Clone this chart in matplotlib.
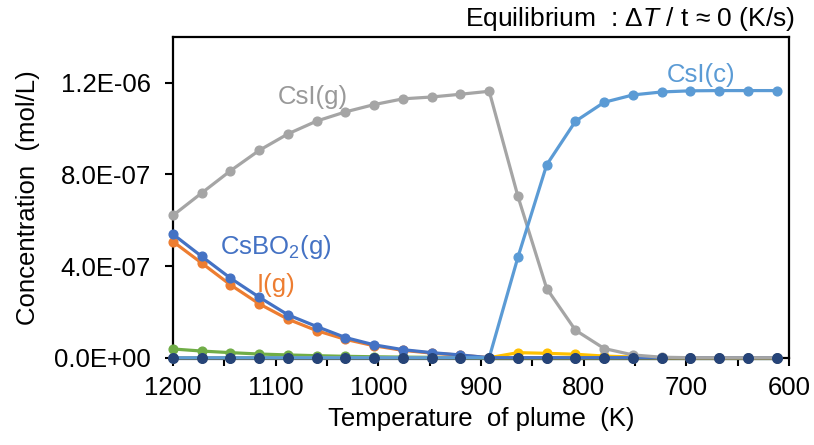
import matplotlib
matplotlib.use("Agg")
import matplotlib.pyplot as plt
from matplotlib.ticker import MultipleLocator, FuncFormatter

plt.rcParams['font.family'] = ['Liberation Sans', 'DejaVu Sans']
plt.rcParams['mathtext.fontset'] = 'custom'
plt.rcParams['mathtext.rm'] = 'Liberation Sans'
plt.rcParams['mathtext.it'] = 'Liberation Sans:italic'

# Plume temperature (K), cooling in 28 K steps
temperature = [1200, 1172, 1144, 1116, 1088, 1060, 1032, 1004, 976, 948, 920,
               892, 864, 836, 808, 780, 752, 724, 696, 668, 640, 612]

# Concentrations (mol/L)
csi_c = [0, 0, 0, 0, 0, 0, 0, 0, 0, 0, 0,
         0, 4.39e-7, 8.42e-7, 1.032e-6, 1.115e-6, 1.147e-6, 1.160e-6, 1.165e-6,
         1.166e-6, 1.166e-6, 1.166e-6]
i_g = [5.07e-7, 4.13e-7, 3.18e-7, 2.35e-7, 1.68e-7, 1.18e-7, 8.0e-8, 5.2e-8,
       3.2e-8, 2.0e-8, 1.1e-8, 0, 0, 0, 0, 0, 0, 0, 0, 0, 0, 0]
csi_g = [6.21e-7, 7.19e-7, 8.16e-7, 9.05e-7, 9.77e-7, 1.033e-6, 1.073e-6,
         1.105e-6, 1.130e-6, 1.138e-6, 1.150e-6, 1.163e-6, 7.04e-7, 3.02e-7,
         1.20e-7, 4.0e-8, 1.2e-8, 2e-9, 0, 0, 0, 0]
minor_yellow = [0, 0, 0, 0, 0, 0, 0, 0, 0, 0, 0,
                0, 2.2e-8, 1.9e-8, 1.5e-8, 7e-9, 3e-9, 0, 0, 0, 0, 0]
csbo2_g = [5.39e-7, 4.42e-7, 3.47e-7, 2.64e-7, 1.87e-7, 1.36e-7, 8.8e-8,
           5.6e-8, 3.5e-8, 2.2e-8, 1.2e-8, 0, 0, 0, 0, 0, 0, 0, 0, 0, 0, 0]
minor_green = [3.8e-8, 2.9e-8, 2.2e-8, 1.6e-8, 1.2e-8, 8.7e-9, 6e-9, 4e-9,
               2.5e-9, 1.5e-9, 1e-9, 0, 0, 0, 0, 0, 0, 0, 0, 0, 0, 0]
trace_navy = [0] * 22
trace_darkgreen = [0] * 22

fig = plt.figure(figsize=(8.14, 4.45), dpi=100)
ax = fig.add_axes([0.2125, 0.1962, 0.7568, 0.7207])

lw = 2.3
ms = 6.3
ax.plot(temperature, trace_navy, color='#264478', lw=lw, zorder=2, clip_on=False)
ax.plot(temperature[11:], trace_darkgreen[11:], color='#43682B', lw=lw,
        zorder=2.1, clip_on=False)
# draw order: minor species first, CsI(c) on top
for i, (vals, col) in enumerate([(minor_green, '#70AD47'),
                                 (minor_yellow, '#FFC000'),
                                 (i_g, '#ED7D31'),
                                 (csbo2_g, '#4472C4'),
                                 (csi_g, '#A5A5A5'),
                                 (csi_c, '#5B9BD5')]):
    ax.plot(temperature, vals, color=col, lw=lw, marker='o', ms=ms,
            zorder=3 + i * 0.1, clip_on=False)
ax.plot(temperature, trace_navy, color='#264478', lw=0, marker='o', ms=ms + 0.6,
        zorder=4, clip_on=False)

ax.set_xlim(1200, 600)
ax.set_ylim(0, 1.4e-6)
ax.xaxis.set_major_locator(MultipleLocator(100))
ax.xaxis.set_minor_locator(MultipleLocator(50))
ax.yaxis.set_major_locator(MultipleLocator(4e-7))
ax.yaxis.set_major_formatter(FuncFormatter(
    lambda v, p: f"{v:.1E}" if v != 0 else "0.0E+00"))

fs = 18.5
ax.tick_params(axis='both', which='both', direction='out', length=6, width=1.5,
               color='black', labelsize=fs)
ax.tick_params(axis='y', pad=10)
ax.tick_params(axis='x', pad=7)
for sp in ax.spines.values():
    sp.set_linewidth(1.6)
    sp.set_color('black')

ax.set_xlabel('Temperature  of plume  (K)', fontsize=fs, labelpad=5)
ax.set_ylabel('Concentration  (mol/L)', fontsize=fs, labelpad=10)

fig.text(0.977, 0.958, r'Equilibrium  : Δ$T$ / t ≈ 0 (K/s)', fontsize=19,
         ha='right', va='center')

ax.text(1064, 1.14e-6, 'CsI(g)', color='#999999', fontsize=fs, ha='center',
        va='center')
ax.text(686, 1.236e-6, 'CsI(c)', color='#5B9BD5', fontsize=fs, ha='center',
        va='center')
ax.text(1100, 4.84e-7, r'CsBO$_2$(g)', color='#4472C4', fontsize=fs,
        ha='center', va='center')
ax.text(1100, 3.17e-7, 'I(g)', color='#ED7D31', fontsize=fs, ha='center',
        va='center')

fig.savefig('out.png', dpi=100)
